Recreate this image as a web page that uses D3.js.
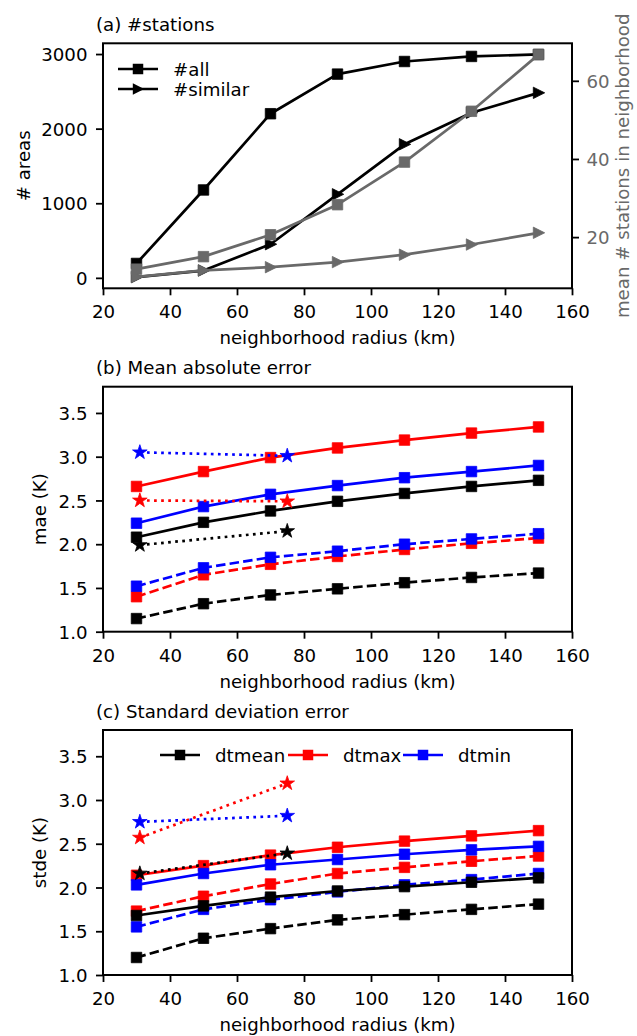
<!DOCTYPE html>
<html><head><meta charset="utf-8">
<script src="https://cdn.jsdelivr.net/npm/d3@7"></script>
<style>body{margin:0;background:#fff} text{font-family:"DejaVu Sans",sans-serif}</style>
</head><body>
<script>
// ---------------- data ----------------
const radius = [30, 50, 70, 90, 110, 130, 150];
const starRadius = [31, 75];
const xTicks = [20, 40, 60, 80, 100, 120, 140, 160];
const areasTicks = [0, 1000, 2000, 3000];
const meanTicks = [20, 40, 60];
const errTicks = [1.0, 1.5, 2.0, 2.5, 3.0, 3.5];

// (a) #stations
const nAll = [193, 1178, 2200, 2731, 2900, 2968, 2995];
const nSimilar = [10, 98, 451, 1120, 1790, 2213, 2480];
const meanAll = [11.8, 15.0, 20.6, 28.3, 39.2, 52.2, 66.7];
const meanSimilar = [9.8, 11.5, 12.3, 13.6, 15.5, 18.1, 21.1];

// (b) mean absolute error
const maeMeanSolid = [2.08, 2.25, 2.38, 2.49, 2.58, 2.66, 2.73];
const maeMaxSolid = [2.66, 2.83, 2.99, 3.10, 3.19, 3.27, 3.34];
const maeMinSolid = [2.24, 2.43, 2.57, 2.67, 2.76, 2.83, 2.90];
const maeMeanDashed = [1.15, 1.32, 1.42, 1.49, 1.56, 1.62, 1.67];
const maeMaxDashed = [1.40, 1.65, 1.77, 1.86, 1.94, 2.01, 2.07];
const maeMinDashed = [1.52, 1.73, 1.85, 1.92, 2.00, 2.06, 2.12];
const maeMeanStar = [1.99, 2.15];
const maeMaxStar = [2.50, 2.49];
const maeMinStar = [3.05, 3.01];

// (c) standard deviation error
const stdeMeanSolid = [1.68, 1.79, 1.89, 1.96, 2.01, 2.06, 2.11];
const stdeMaxSolid = [2.14, 2.25, 2.37, 2.46, 2.53, 2.59, 2.65];
const stdeMinSolid = [2.03, 2.16, 2.26, 2.32, 2.38, 2.43, 2.47];
const stdeMeanDashed = [1.20, 1.42, 1.53, 1.63, 1.69, 1.75, 1.81];
const stdeMaxDashed = [1.73, 1.90, 2.04, 2.16, 2.23, 2.30, 2.36];
const stdeMinDashed = [1.55, 1.75, 1.86, 1.95, 2.03, 2.09, 2.16];
const stdeMeanStar = [2.16, 2.39];
const stdeMaxStar = [2.57, 3.19];
const stdeMinStar = [2.75, 2.82];

const varNames = ["dtmean", "dtmax", "dtmin"];
const varColors = ["#000000", "#ff0000", "#0000ff"];
const grayColor = "#696969";

// ---------------- layout ----------------
const W = 637, H = 1036;
const L = 103, R = 572, PH = 245;
const tops = [43.3, 386.7, 730];
const FS = 18.2;
const LW = 2.7;

const svg = d3.select("body").append("svg").attr("width", W).attr("height", H);
const x = d3.scaleLinear().domain([20, 160]).range([L, R]);

function axesFrame(top, y, ticks, fmt, title, ylabel, ylabelX) {
  const g = svg.append("g");
  const bottom = top + PH;
  const xa = g.append("g").attr("transform", `translate(0,${bottom})`)
    .call(d3.axisBottom(x).tickValues(xTicks).tickSize(7).tickSizeOuter(0).tickPadding(10));
  const ya = g.append("g").attr("transform", `translate(${L},0)`)
    .call(d3.axisLeft(y).tickValues(ticks).tickFormat(fmt).tickSize(7).tickSizeOuter(0).tickPadding(8.5));
  [xa, ya].forEach(a => {
    a.select(".domain").remove();
    a.selectAll("line").attr("stroke", "#000").attr("stroke-width", 1.8);
    a.selectAll("text").attr("font-size", FS).attr("font-family", "DejaVu Sans").attr("fill", "#000");
  });
  ya.selectAll("text").attr("dy", "0.36em");
  g.append("text").attr("x", 96).attr("y", top - 12.3).attr("font-size", FS).text(title);
  g.append("text").attr("x", (L + R) / 2).attr("y", bottom + 56).attr("text-anchor", "middle")
    .attr("font-size", FS).text("neighborhood radius (km)");
  g.append("text").attr("transform", `translate(${ylabelX},${top + PH / 2}) rotate(-90)`)
    .attr("text-anchor", "middle").attr("font-size", FS).text(ylabel);
  return g;
}

function frameRect(top) {
  svg.append("rect").attr("x", L).attr("y", top).attr("width", R - L).attr("height", PH)
    .attr("fill", "none").attr("stroke", "#000").attr("stroke-width", 2);
}

const squarePath = d3.symbol(d3.symbolSquare, 110)();
const starPath = d3.symbol(d3.symbolStar, 66)();
const triRightPath = "M6.2,0L-5.2,-5.7L-5.2,5.7Z";

function series(g, xs, ys, y, color, dash, markerPath) {
  const pts = xs.map((d, i) => [d, ys[i]]);
  const line = d3.line().x(d => x(d[0])).y(d => y(d[1]));
  g.append("path").attr("d", line(pts)).attr("fill", "none").attr("stroke", color)
    .attr("stroke-width", LW).attr("stroke-dasharray", dash || null).attr("stroke-linejoin", "round");
  g.selectAll(null).data(pts).enter().append("path")
    .attr("d", markerPath)
    .attr("transform", d => `translate(${x(d[0])},${y(d[1])})`)
    .attr("fill", color).attr("stroke", color).attr("stroke-width", 0.8);
}

// ---------------- panel (a) ----------------
{
  const top = tops[0];
  const yL = d3.scaleLinear().domain([-140, 3144]).range([top + PH, top]);
  const yR = d3.scaleLinear().domain([6.9, 69.6]).range([top + PH, top]);
  const g = axesFrame(top, yL, areasTicks, d3.format("d"), "(a) #stations", "# areas", 30);
  // right axis
  const ra = g.append("g").attr("transform", `translate(${R},0)`)
    .call(d3.axisRight(yR).tickValues(meanTicks).tickSize(7).tickSizeOuter(0).tickPadding(7.5));
  ra.select(".domain").remove();
  ra.selectAll("line").attr("stroke", "#000").attr("stroke-width", 1.8);
  ra.selectAll("text").attr("font-size", FS).attr("font-family", "DejaVu Sans").attr("fill", grayColor).attr("dy", "0.36em");
  g.append("text").attr("transform", `translate(629,${top + PH / 2}) rotate(-90)`)
    .attr("text-anchor", "middle").attr("font-size", FS).attr("fill", grayColor)
    .text("mean # stations in neighborhood");

  const pg = svg.append("g");
  series(pg, radius, nAll, yL, "#000", null, squarePath);
  series(pg, radius, nSimilar, yL, "#000", null, triRightPath);
  series(pg, radius, meanAll, yR, grayColor, null, squarePath);
  series(pg, radius, meanSimilar, yR, grayColor, null, triRightPath);
  frameRect(top);

  // legend
  const leg = svg.append("g");
  [["#all", squarePath], ["#similar", triRightPath]].forEach((d, i) => {
    const yy = 69 + i * 20;
    leg.append("line").attr("x1", 118).attr("x2", 158).attr("y1", yy).attr("y2", yy)
      .attr("stroke", "#000").attr("stroke-width", LW);
    leg.append("path").attr("d", d[1]).attr("transform", `translate(138,${yy})`).attr("fill", "#000");
    leg.append("text").attr("x", 173).attr("y", yy).attr("dy", "0.36em").attr("font-size", FS).text(d[0]);
  });
}

// ---------------- panels (b), (c) ----------------
const DASH = "9.5,4.2";
const DOT = "2.7,4.4";
function errPanel(top, title, ylabel, solid, dashed, stars, legend) {
  const y = d3.scaleLinear().domain([1.0, 3.8]).range([top + PH, top]);
  axesFrame(top, y, errTicks, d3.format(".1f"), title, ylabel, 46);
  const pg = svg.append("g");
  dashed.forEach((s, i) => series(pg, radius, s, y, varColors[i], DASH, squarePath));
  solid.forEach((s, i) => series(pg, radius, s, y, varColors[i], null, squarePath));
  stars.forEach((s, i) => series(pg, starRadius, s, y, varColors[i], DOT, starPath));
  frameRect(top);
  if (legend) {
    const leg = svg.append("g");
    const yy = top + 25;
    const hx = [160, 288, 403];
    varNames.forEach((n, i) => {
      leg.append("line").attr("x1", hx[i]).attr("x2", hx[i] + 40).attr("y1", yy).attr("y2", yy)
        .attr("stroke", varColors[i]).attr("stroke-width", LW);
      leg.append("path").attr("d", squarePath).attr("transform", `translate(${hx[i] + 20},${yy})`).attr("fill", varColors[i]);
      leg.append("text").attr("x", hx[i] + 55).attr("y", yy).attr("dy", "0.36em").attr("font-size", FS).text(n);
    });
  }
}

errPanel(tops[1], "(b) Mean absolute error", "mae (K)",
  [maeMeanSolid, maeMaxSolid, maeMinSolid],
  [maeMeanDashed, maeMaxDashed, maeMinDashed],
  [maeMeanStar, maeMaxStar, maeMinStar], false);

errPanel(tops[2], "(c) Standard deviation error", "stde (K)",
  [stdeMeanSolid, stdeMaxSolid, stdeMinSolid],
  [stdeMeanDashed, stdeMaxDashed, stdeMinDashed],
  [stdeMeanStar, stdeMaxStar, stdeMinStar], true);
</script>
</body></html>
